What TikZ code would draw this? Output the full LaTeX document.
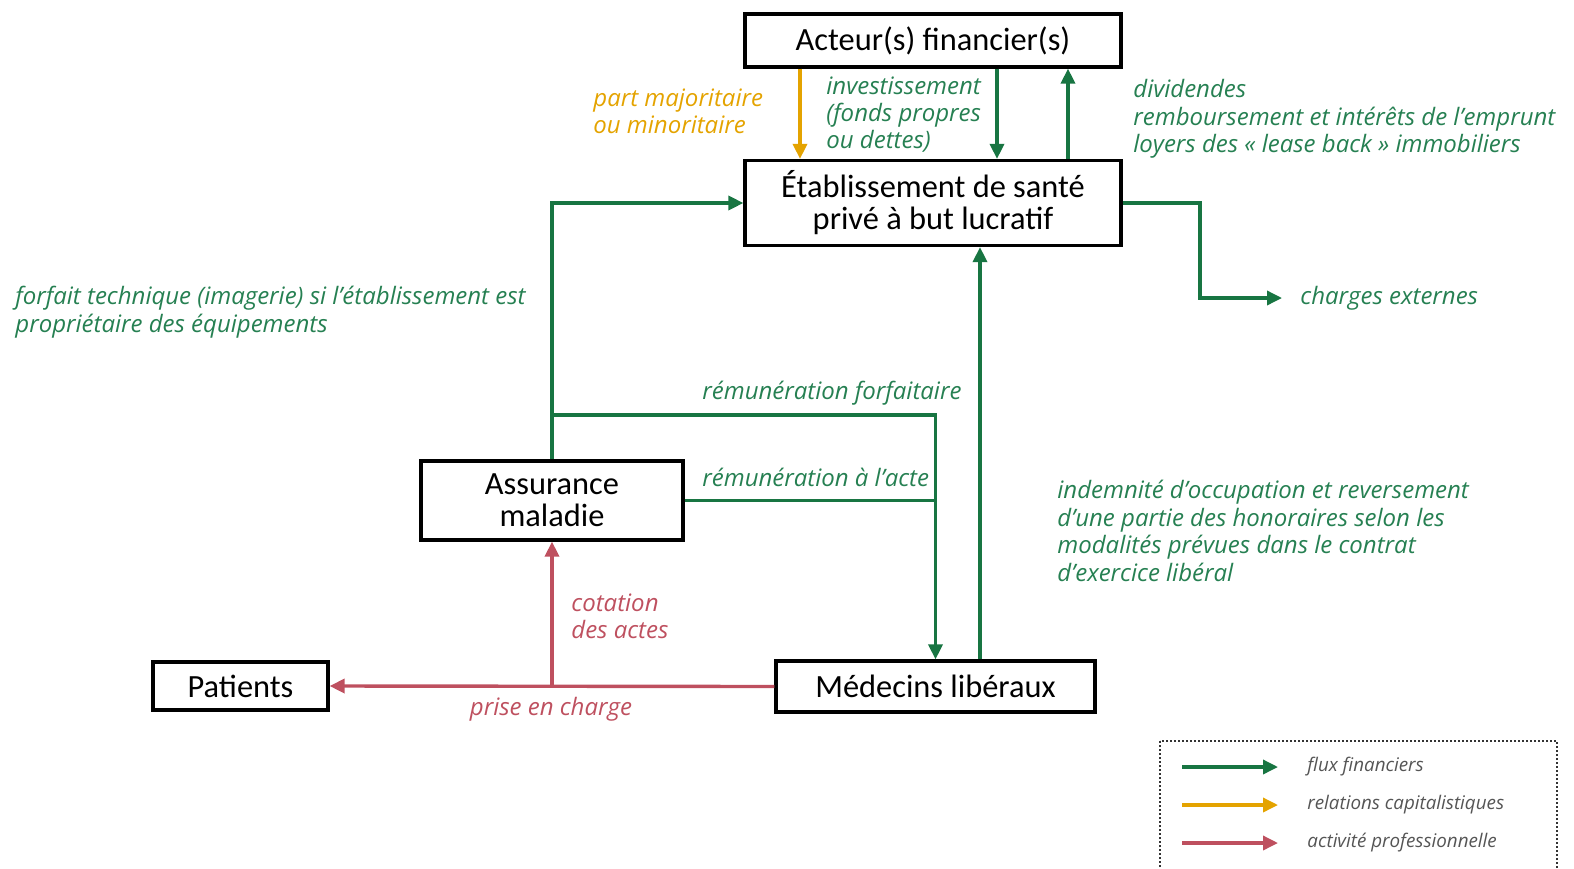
\documentclass[tikz,border=0pt]{standalone}
\usepackage{fontspec}
\setmainfont{Carlito}
\newfontfamily\boxfont{Carlito}
\newfontfamily\labfont{Open Sans}
\usetikzlibrary{arrows.meta}
\definecolor{cfin}{RGB}{24,117,66}
\definecolor{cgold}{RGB}{228,163,0}
\definecolor{cpro}{RGB}{190,80,95}
\definecolor{ctxtfin}{RGB}{38,128,82}
\definecolor{cleg}{RGB}{85,85,85}
\tikzset{
  box/.style={draw=black, line width=1.6pt, inner sep=0pt, align=center, font=\boxfont\fontsize{16.2}{16}\selectfont},
  tipA/.style={-{Triangle[length=7.5pt,width=7pt]}},
  fin/.style={draw=cfin, line width=1.7pt},
  gold/.style={draw=cgold, line width=1.7pt},
  pro/.style={draw=cpro, line width=1.7pt},
  lab/.style={inner sep=0pt, align=left, anchor=west, font=\labfont\itshape\fontsize{12}{13.7}\selectfont},
  labfin/.style={lab, text=ctxtfin},
  leg/.style={inner sep=0pt, anchor=west, text=cleg, font=\labfont\itshape\fontsize{9.4}{10}\selectfont}
}
\begin{document}
\begin{tikzpicture}[x=0.5pt,y=-0.5pt]
\useasboundingbox (0,0) rectangle (1574,868);
\clip (0,0) rectangle (1574,868);
% boxes
\node[box, minimum width=188pt, minimum height=26.5pt] (act) at (933,40.5) {Acteur(s) financier(s)};
\node[box, minimum width=188pt, minimum height=42.5pt] (etab) at (933,203) {Établissement de santé\\privé à but lucratif};
\node[box, minimum width=131pt, minimum height=39.5pt] (ass) at (552,500.5) {Assurance\\maladie};
\node[box, minimum width=87.5pt, minimum height=24pt] (pat) at (240.5,686) {Patients};
\node[box, minimum width=159.5pt, minimum height=25.5pt] (med) at (935.5,686.5) {Médecins libéraux};
% helper coordinates
\coordinate (xg) at (800,0);
\coordinate (xi) at (997,0);
\coordinate (xd) at (1068,0);
\coordinate (xm) at (980,0);
\coordinate (jf) at (552,415);
\coordinate (bend) at (1200,298);
\coordinate (chtip) at (1282,298);
% top arrows
\draw[gold,tipA] (act.south -| xg) -- (etab.north -| xg);
\draw[fin,tipA] (act.south -| xi) -- (etab.north -| xi);
\draw[fin,tipA] (etab.north -| xd) -- (act.south -| xd);
% assurance to etab
\draw[fin,tipA] (ass.north) |- (etab.west);
% forfaitaire
\draw[fin,tipA] (jf) -| (med.north);
% acte
\draw[fin] (ass.east) -- (ass.east -| med.north);
% medecins to etab
\draw[fin,tipA] (med.north -| xm) -- (etab.south -| xm);
% charges externes
\draw[fin,tipA] (etab.east) -| (bend) -- (chtip);
% red
\draw[pro,tipA] (med.west) -- (pat.east);
\draw[pro,tipA] (med.west -| ass.south) -- (ass.south);
% labels
\node[lab, text=cgold] (lpart) at (593,111.5) {part majoritaire\\ou minoritaire};
\node[labfin] (linv) at (826,114.5) {investissement\\(fonds propres\\ou dettes)};
\node[labfin] (ldiv) at (1133,119) {dividendes\\remboursement et intérêts de l’emprunt\\loyers des « lease back » immobiliers};
\node[labfin] (lforf) at (15,312) {forfait technique (imagerie) si l’établissement est\\propriétaire des équipements};
\node[labfin] (lrf) at (702,393) {rémunération forfaitaire};
\node[labfin] (lra) at (702,477) {rémunération à l’acte};
\node[labfin] (lind) at (1057,531) {indemnité d’occupation et reversement\\d’une partie des honoraires selon les\\modalités prévues dans le contrat\\d’exercice libéral};
\node[lab, text=cpro] (lcot) at (571,616) {cotation\\des actes};
\node[lab, text=cpro, anchor=center] (lprise) at (551,709) {prise en charge};
\node[labfin] (lch) at (1300,298) {charges externes};
% legend
\draw[black!80, line width=0.6pt, dash pattern=on 1.2pt off 0.8pt] (1160,741) rectangle (1557,900);
\coordinate (la1) at (1182,767); \coordinate (lb1) at (1278,767);
\coordinate (la2) at (1182,805); \coordinate (lb2) at (1278,805);
\coordinate (la3) at (1182,843); \coordinate (lb3) at (1278,843);
\draw[fin,tipA] (la1) -- (lb1);
\draw[gold,tipA] (la2) -- (lb2);
\draw[pro,tipA] (la3) -- (lb3);
\node[leg] (lg1) at (1307,767) {flux financiers};
\node[leg] (lg2) at (1307,805) {relations capitalistiques};
\node[leg] (lg3) at (1307,843) {activité professionnelle};
\end{tikzpicture}
\end{document}
